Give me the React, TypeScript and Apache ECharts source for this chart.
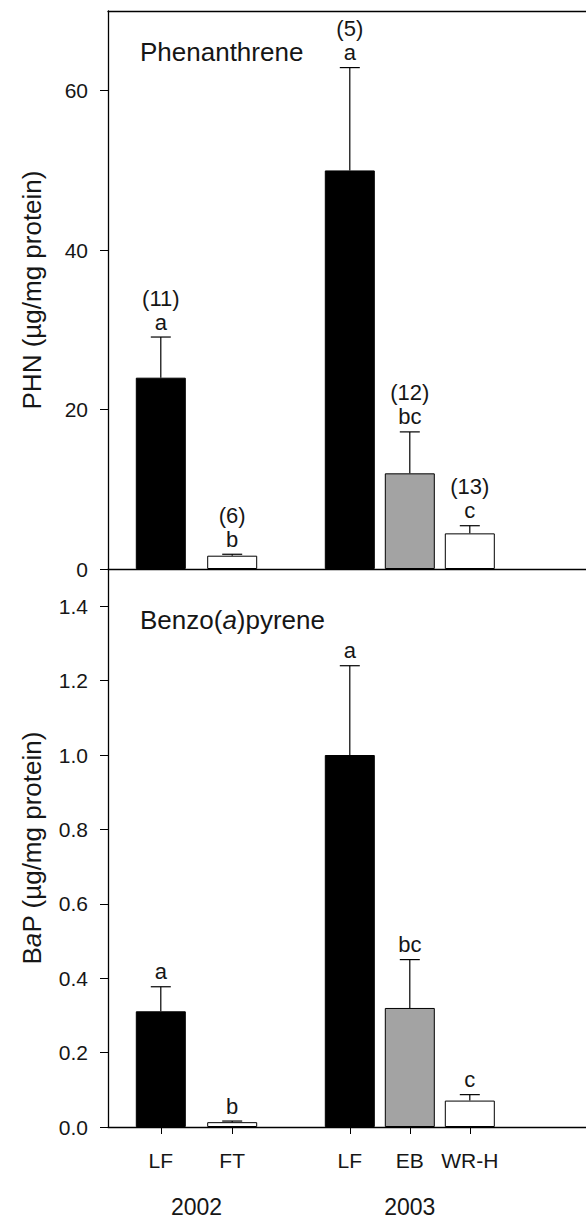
import React, { useEffect, useRef } from "react";
import * as echarts from "echarts";

// Data
const groups = ["LF", "FT", "LF", "EB", "WR-H"];
const groupPos = [0.88, 2.07, 4.03, 5.03, 6.03];
const years = ["2002", "2003"];
const yearPos = [1.475, 5.03];
const barColors = ["#000000", "#ffffff", "#000000", "#a3a3a3", "#ffffff"];

const phnMean = [24.0, 1.67, 50.0, 12.0, 4.47];
const phnErr = [5.1, 0.18, 12.9, 5.2, 0.96];
const phnLetters = ["a", "b", "a", "bc", "c"];
const phnN = ["(11)", "(6)", "(5)", "(12)", "(13)"];
const phnTicks = [0, 20, 40, 60];

const bapMean = [0.311, 0.013, 1.0, 0.32, 0.071];
const bapErr = [0.066, 0.003, 0.24, 0.13, 0.016];
const bapLetters = ["a", "b", "a", "bc", "c"];
const bapTicks = [0, 0.2, 0.4, 0.6, 0.8, 1.0, 1.2, 1.4];

const FONT = "Liberation Sans, Arial, Helvetica, sans-serif";
const TXT = "#161616";

function makeErrRender(letters: string[], counts: string[] | null) {
  return (params: any, api: any) => {
    const i = params.dataIndex;
    const x = api.value(0);
    const y = api.value(1);
    const t = api.value(2);
    const pb = api.coord([x, y]);
    const pt = api.coord([x, t]);
    const children: any[] = [
      { type: "line", shape: { x1: pb[0], y1: pb[1], x2: pt[0], y2: pt[1] }, style: { stroke: "#000", lineWidth: 1.2 } },
      { type: "line", shape: { x1: pt[0] - 10, y1: pt[1], x2: pt[0] + 10, y2: pt[1] }, style: { stroke: "#000", lineWidth: 1.2 } },
      {
        type: "text",
        x: pt[0],
        y: pt[1] - 4,
        style: { text: letters[i], fontSize: 22, fontFamily: FONT, fill: TXT, align: "center", verticalAlign: "bottom" },
      },
    ];
    if (counts) {
      children.push({
        type: "text",
        x: pt[0],
        y: pt[1] - 28,
        style: { text: counts[i], fontSize: 22, fontFamily: FONT, fill: TXT, align: "center", verticalAlign: "bottom" },
      });
    }
    return { type: "group", children };
  };
}

export default function App() {
  const ref = useRef<HTMLDivElement>(null);
  useEffect(() => {
    if (!ref.current) return;
    const chart = echarts.init(ref.current, null, { renderer: "svg" });
    const xMax = 478 / 60;
    const barData = (means: number[]) =>
      means.map((m, i) => ({
        value: [groupPos[i], m],
        itemStyle: { color: barColors[i], borderColor: "#000", borderWidth: 1 },
      }));
    const errData = (means: number[], errs: number[]) => means.map((m, i) => [groupPos[i], m, m + errs[i]]);
    const axisLineStyle = { color: "#000", width: 1.3 };

    chart.setOption({
      animation: false,
      backgroundColor: "#ffffff",
      textStyle: { fontFamily: FONT },
      grid: [
        { left: 108, top: 11, right: 0, height: 558 },
        { left: 108, top: 569, right: 0, height: 559 },
      ],
      xAxis: [
        {
          gridIndex: 0, type: "value", min: 0, max: xMax, position: "bottom",
          axisLine: { show: true, lineStyle: axisLineStyle }, axisTick: { show: false },
          axisLabel: { show: false }, splitLine: { show: false },
        },
        {
          gridIndex: 0, type: "value", min: 0, max: xMax, position: "top",
          axisLine: { show: true, lineStyle: axisLineStyle }, axisTick: { show: false },
          axisLabel: { show: false }, splitLine: { show: false },
        },
        {
          gridIndex: 1, type: "value", min: 0, max: xMax, position: "bottom",
          axisLine: { show: true, onZero: false, lineStyle: axisLineStyle },
          axisTick: { show: true, customValues: groupPos, length: 7, lineStyle: { color: "#000", width: 1 } },
          axisLabel: {
            show: true, customValues: groupPos, margin: 23, fontSize: 21, color: TXT, fontFamily: FONT,
            formatter: (v: number) => {
              let best = 0;
              groupPos.forEach((p, i) => { if (Math.abs(p - v) < Math.abs(groupPos[best] - v)) best = i; });
              return groups[best];
            },
          },
          splitLine: { show: false },
        },
        {
          gridIndex: 1, type: "value", min: 0, max: xMax, position: "bottom",
          axisLine: { show: false }, axisTick: { show: false },
          axisLabel: {
            show: true, customValues: yearPos, margin: 68, fontSize: 23, color: TXT, fontFamily: FONT,
            formatter: (v: number) => (Math.abs(v - yearPos[0]) < Math.abs(v - yearPos[1]) ? years[0] : years[1]),
          },
          splitLine: { show: false },
        },
      ],
      yAxis: [
        {
          gridIndex: 0, type: "value", min: 0, max: 70,
          name: "PHN (µg/mg protein)", nameLocation: "middle", nameGap: 63,
          nameTextStyle: { fontSize: 26, color: TXT, fontFamily: FONT },
          axisLine: { show: true, lineStyle: axisLineStyle },
          axisTick: { show: true, customValues: phnTicks, length: 8, lineStyle: { color: "#000", width: 1 } },
          axisLabel: { customValues: phnTicks, margin: 20, fontSize: 21, color: TXT, fontFamily: FONT },
          splitLine: { show: false },
        },
        {
          gridIndex: 1, type: "value", min: 0, max: 1.5,
          name: "B{i|a}P (µg/mg protein)", nameLocation: "middle", nameGap: 63,
          nameTextStyle: {
            fontSize: 26, color: TXT, fontFamily: FONT,
            rich: { i: { fontSize: 26, fontStyle: "italic", color: TXT, fontFamily: FONT } },
          },
          axisLine: { show: true, lineStyle: axisLineStyle },
          axisTick: { show: true, customValues: bapTicks, length: 8, lineStyle: { color: "#000", width: 1 } },
          axisLabel: {
            customValues: bapTicks, margin: 20, fontSize: 21, color: TXT, fontFamily: FONT,
            formatter: (v: number) => v.toFixed(1),
          },
          splitLine: { show: false },
        },
      ],
      graphic: [
        {
          type: "text", x: 140, y: 52,
          style: { text: "Phenanthrene", fontSize: 26, fontFamily: FONT, fill: TXT, verticalAlign: "middle" },
        },
        {
          type: "text", x: 140, y: 620,
          style: {
            text: "Benzo({i|a})pyrene", fontSize: 26, fontFamily: FONT, fill: TXT, verticalAlign: "middle",
            rich: { i: { fontSize: 26, fontStyle: "italic", fontFamily: FONT, fill: TXT } },
          },
        },
      ],
      series: [
        { type: "bar", xAxisIndex: 0, yAxisIndex: 0, barWidth: 50, data: barData(phnMean), z: 2 },
        {
          type: "custom", xAxisIndex: 0, yAxisIndex: 0, data: errData(phnMean, phnErr), z: 3,
          renderItem: makeErrRender(phnLetters, phnN), clip: false,
        },
        { type: "bar", xAxisIndex: 2, yAxisIndex: 1, barWidth: 50, data: barData(bapMean), z: 2 },
        {
          type: "custom", xAxisIndex: 2, yAxisIndex: 1, data: errData(bapMean, bapErr), z: 3,
          renderItem: makeErrRender(bapLetters, null), clip: false,
        },
      ],
    });
    return () => chart.dispose();
  }, []);
  return <div ref={ref} style={{ position: "absolute", left: 0, top: 0, width: 586, height: 1218 }} />;
}
